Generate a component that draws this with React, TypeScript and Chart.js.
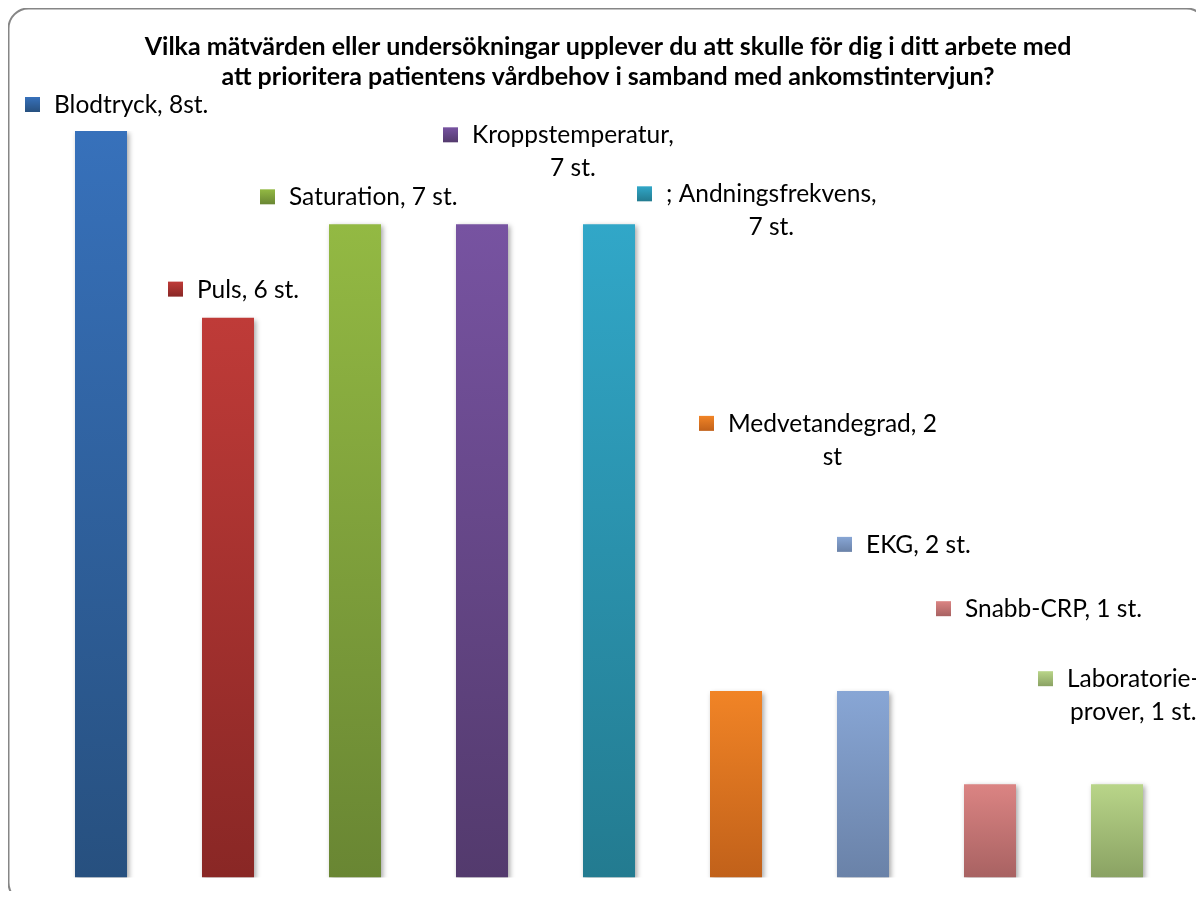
import React, { useEffect, useRef } from "react";
import { Chart, registerables } from "chart.js";

Chart.register(...registerables);

const titleLines = [
  "Vilka mätvärden eller undersökningar upplever du att skulle för dig i ditt arbete med",
  "att prioritera patientens vårdbehov i samband med ankomstintervjun?",
];

const categories = [
  "Blodtryck",
  "Puls",
  "Saturation",
  "Kroppstemperatur",
  "Andningsfrekvens",
  "Medvetandegrad",
  "EKG",
  "Snabb-CRP",
  "Laboratorieprover",
];

const values = [8, 6, 7, 7, 7, 2, 2, 1, 1];

const labelLines = [
  ["Blodtryck, 8st."],
  ["Puls, 6 st."],
  ["Saturation, 7 st."],
  ["Kroppstemperatur,", "7 st."],
  ["; Andningsfrekvens,", "7 st."],
  ["Medvetandegrad, 2", "st"],
  ["EKG, 2 st."],
  ["Snabb-CRP, 1 st."],
  ["Laboratorie-", "prover, 1 st."],
];

// label placement relative to bar (key square left from bar centre, baseline from bar top)
const labelDx = [-76, -60, -95, -39, 28, -37, -26, -54, -79];
const labelDy = [-18, -20, -19, -81, -22, -259, -138, -167, -97];

const topColors = ["#3771bb", "#bf3b38", "#93b943", "#7753a1", "#31a7c8", "#f18426", "#88a6d5", "#db8483", "#b9d589"];
const bottomColors = ["#27507f", "#892725", "#698633", "#533a6d", "#237b90", "#c1611a", "#6a82a8", "#a86262", "#8aa263"];

const FONT = "Lato, 'Open Sans', sans-serif";

export default function App() {
  const ref = useRef<HTMLCanvasElement | null>(null);

  useEffect(() => {
    document.documentElement.style.overflow = "hidden";
    document.body.style.overflow = "hidden";
    const canvas = ref.current!;

    const shadowPlugin = {
      id: "barShadow",
      beforeDatasetsDraw(chart: any) {
        const ctx = chart.ctx;
        ctx.save();
        ctx.shadowColor = "rgba(0,0,0,0.35)";
        ctx.shadowBlur = 5;
        ctx.shadowOffsetX = 2;
        ctx.shadowOffsetY = 2;
      },
      afterDatasetsDraw(chart: any) {
        chart.ctx.restore();
      },
    };

    const decoPlugin = {
      id: "deco",
      beforeDraw(chart: any) {
        const ctx = chart.ctx;
        ctx.save();
        ctx.fillStyle = "#ffffff";
        ctx.fillRect(0, 0, chart.width, chart.height);
        ctx.restore();
      },
      afterDraw(chart: any) {
        const ctx = chart.ctx;
        ctx.save();
        // border (right and bottom parts lie beyond the visible page, as in the reference)
        ctx.strokeStyle = "#868686";
        ctx.lineWidth = 2;
        ctx.beginPath();
        ctx.roundRect(0.5, 0.5, 1198, 894, 20);
        ctx.stroke();
        // title
        ctx.fillStyle = "#000";
        ctx.textAlign = "center";
        ctx.textBaseline = "alphabetic";
        ctx.font = "bold 25px " + FONT;
        ctx.fillText(titleLines[0], 600, 47);
        ctx.fillText(titleLines[1], 600, 77);
        // labels
        const meta = chart.getDatasetMeta(0);
        ctx.font = "24.5px " + FONT;
        meta.data.forEach((bar: any, i: number) => {
          const sqX = bar.x + labelDx[i];
          const base = bar.y + labelDy[i];
          const g = ctx.createLinearGradient(0, base - 16, 0, base - 1);
          g.addColorStop(0, topColors[i]);
          g.addColorStop(1, bottomColors[i]);
          ctx.fillStyle = g;
          ctx.fillRect(sqX, base - 16, 15, 15);
          ctx.fillStyle = "#000";
          const lines = labelLines[i];
          const textX = sqX + 29;
          const widths = lines.map((l) => ctx.measureText(l).width);
          const bw = Math.max(...widths);
          lines.forEach((l, k) => {
            ctx.textAlign = "left";
            const x = lines.length > 1 ? textX + (bw - widths[k]) / 2 : textX;
            ctx.fillText(l, x, base + k * 33);
          });
        });
        ctx.restore();
      },
    };

    const chart = new Chart(canvas, {
      type: "bar",
      data: {
        labels: categories,
        datasets: [
          {
            data: values,
            backgroundColor: (c: any) => {
              const ch = c.chart;
              const i = c.dataIndex;
              const y = ch.scales && ch.scales.y;
              if (!ch.chartArea || !y || i === undefined) return topColors[i] || "#888";
              const top = y.getPixelForValue(values[i]);
              const bottom = y.getPixelForValue(0);
              const g = ch.ctx.createLinearGradient(0, top, 0, bottom);
              g.addColorStop(0, topColors[i]);
              g.addColorStop(1, bottomColors[i]);
              return g;
            },
            borderWidth: 0,
            barPercentage: 0.4094,
            categoryPercentage: 1,
          },
        ],
      },
      options: {
        responsive: false,
        animation: false,
        devicePixelRatio: 1,
        layout: { padding: { top: 123, bottom: 21.5, left: 29.5, right: 39.5 } },
        plugins: {
          legend: { display: false },
          title: { display: false },
          tooltip: { enabled: false },
        },
        scales: {
          x: { display: false },
          y: { display: false, min: 0, max: 8 },
        },
      },
      plugins: [decoPlugin, shadowPlugin],
    });
    return () => chart.destroy();
  }, []);

  return (
    <div style={{ width: 1204, height: 899, margin: -8, padding: 8, boxSizing: "border-box", overflow: "hidden" }}>
      <canvas ref={ref} width={1212} height={891} style={{ display: "block" }} />
    </div>
  );
}
